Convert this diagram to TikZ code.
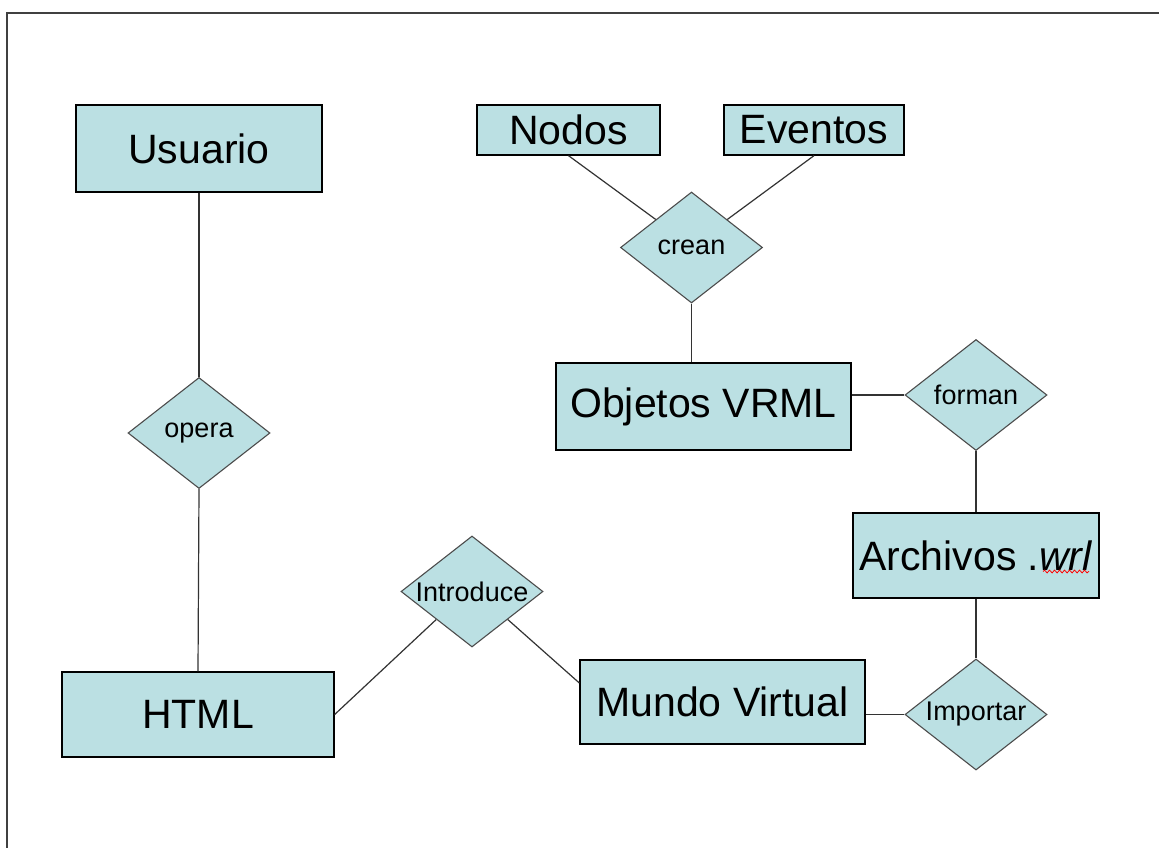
\documentclass[tikz,border=0pt]{standalone}
\usepackage{fontspec}
\setmainfont{Liberation Sans}
\usetikzlibrary{shapes.geometric,decorations.pathmorphing}
\definecolor{celeste}{RGB}{187,224,227}

\begin{document}
\begin{tikzpicture}[
	x=1pt, y=-1pt,
	entidad/.style={shape=rectangle, fill=celeste, draw=black, line width=1.3pt, inner sep=0pt, font=\fontsize{41}{48}\selectfont},
	relacion/.style={shape=diamond, fill=celeste, draw=black!70, line width=1.1pt, inner sep=-10pt, minimum width=142pt, minimum height=111pt, font=\fontsize{27}{30}\selectfont},
	linea/.style={draw=black!80, line width=1.2pt},
]
\useasboundingbox (0,0) rectangle (1159,848);
\fill[white] (0,0) rectangle (1159,848);
\draw[black!75, line width=2.5pt] (7,850) -- (7,13) -- (1161,13);

% entidades
\node[entidad, minimum width=246pt, minimum height=87pt] (usuario) at (199,148.5) {Usuario};
\node[entidad, minimum width=183pt, minimum height=50pt] (nodos) at (568.5,130) {Nodos};
\node[entidad, minimum width=180pt, minimum height=50pt] (eventos) at (814,130) {Eventos};
\node[entidad, minimum width=295pt, minimum height=87pt] (objetos) at (703.5,406.5) {Objetos VRML};
\node[entidad, minimum width=246pt, minimum height=85pt] (archivos) at (976,555.5) {Archivos .\textit{wrl}};
\node[entidad, minimum width=285pt, minimum height=84pt] (mundo) at (722.5,702) {Mundo Virtual};
\node[entidad, minimum width=272pt, minimum height=85pt] (html) at (198,714.5) {HTML};

% relaciones
\node[relacion] (crean) at (691.5,247.5) {crean};
\node[relacion] (forman) at (976,395) {forman};
\node[relacion] (importar) at (976,714.5) {Importar};
\node[relacion] (introduce) at (472,591.5) {Introduce};
\node[relacion] (opera) at (199,433) {opera};

% lineas
\draw[linea] (usuario.south) -- (opera.north);
\draw[linea] (opera.south) -- (html.north);
\draw[linea] (nodos.south) -- (crean.north west);
\draw[linea] (eventos.south) -- (crean.north east);
\draw[linea] (crean.south) -- (crean.south |- objetos.north);
\draw[linea] (objetos.east |- forman.west) -- (forman.west);
\draw[linea] (forman.south) -- (archivos.north);
\draw[linea] (archivos.south) -- (importar.north);
\draw[linea] (mundo.east |- importar.west) -- (importar.west);
\draw[linea] (html.east) -- (introduce.south west);
\draw[linea] (introduce.south east) -- ([yshift=19pt]mundo.west);

% subrayado rojo
\draw[red, line width=0.8pt, decorate, decoration={snake, amplitude=1.4pt, segment length=5pt}]
	([xshift=67pt, yshift=-16pt]archivos.center) -- ++(46,0);
\end{tikzpicture}
\end{document}
